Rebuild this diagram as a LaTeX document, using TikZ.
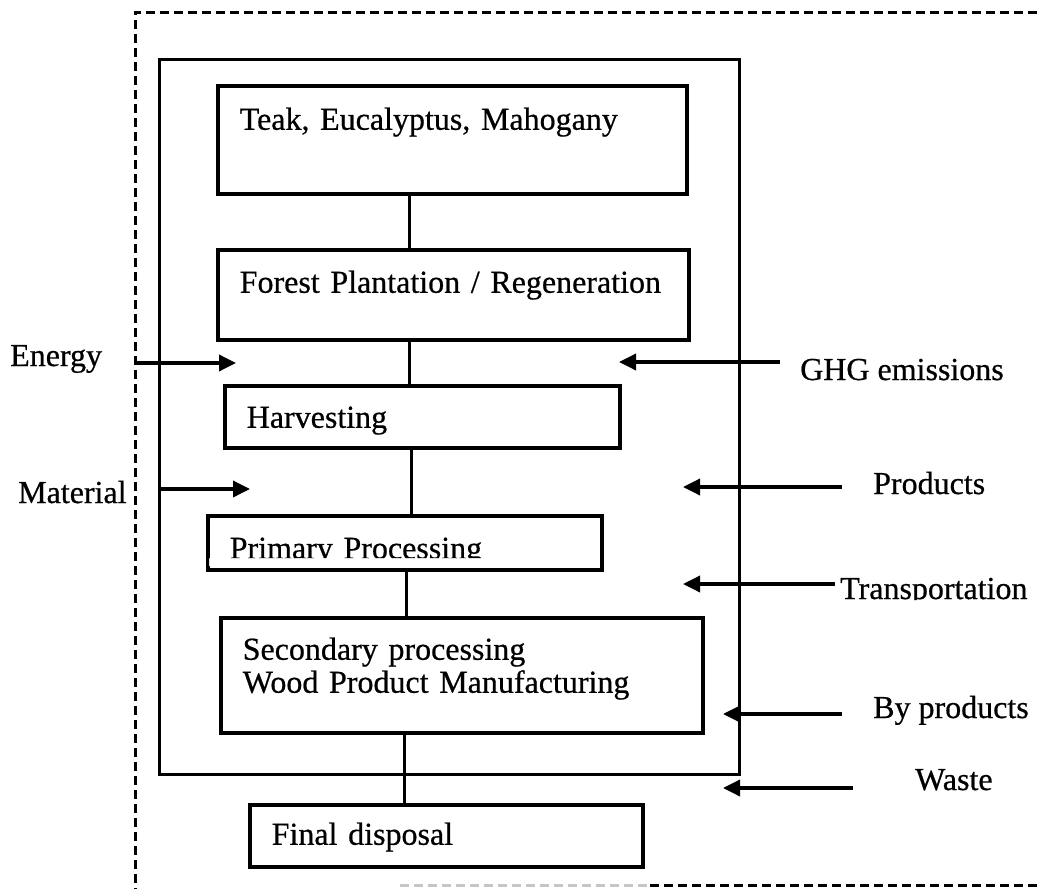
\documentclass[tikz,border=0pt]{standalone}
\usepackage{fontspec}
\setmainfont{Liberation Serif}[FakeBold=0.6]
\usetikzlibrary{arrows.meta}

\tikzset{
    every node/.style={font=\fontsize{32}{33}\selectfont},
    stage/.style={draw, line width=3.5pt, anchor=north west, inner xsep=22pt, inner ysep=0pt, align=left},
    tag/.style={anchor=base west, inner sep=0pt},
    link/.style={line width=3pt},
    flow/.style={-{Triangle[length=17pt,width=16pt]}, line width=3.5pt},
    border/.style={dashed, dash pattern=on 9pt off 5pt, line width=3pt},
}

\begin{document}
\begin{tikzpicture}[x=1pt, y=-1pt]

    \useasboundingbox (0,0) rectangle (1037,889);

    \begin{scope}[even odd rule]
    % cut the descenders off as in the scan
    \clip (0,0) rectangle (1037,889)
        (209,558) rectangle (597,566) (835,600) rectangle (1037,612);

    %% Outer (dashed) boundary
    \draw[border] (1037,12) -- (135,12) -- (135,889);
    \draw[border, gray!45] (400,885) -- (650,885);
    \draw[border] (650,885) -- (1037,885);

    %% System boundary
    \draw[line width=3pt] (159,59) rectangle (739,774);

    %% Life cycle stages
    \node[stage, text width=425pt, text height=44pt, text depth=64pt] (species) at (216,84) {Teak, Eucalyptus, Mahogany};
    \node[stage, text width=427pt, text height=43pt, text depth=47pt] (forest) at (216,248) {Forest Plantation / Regeneration};
    \node[stage, text width=351pt, text height=42pt, text depth=20pt] (harvest) at (223,384) {Harvesting};
    \node[stage, text width=350pt, text height=43pt, text depth=11pt] (primary) at (206,514) {Primary Processing};
    \node[stage, text width=438pt, text height=42pt, text depth=73pt] (secondary) at (219,616) {Secondary processing\\Wood Product Manufacturing};
    \node[stage, text width=349pt, text height=40pt, text depth=22pt] (disposal) at (248,803) {Final disposal};

    % Links between stages
    \draw[link] (species.south -| 409,0) -- (forest.north -| 409,0);
    \draw[link] (forest.south -| 409,0) -- (harvest.north -| 409,0);
    \draw[link] (harvest.south -| 411,0) -- (primary.north -| 411,0);
    \draw[link] (primary.south -| 406,0) -- (secondary.north -| 406,0);
    \draw[link] (secondary.south -| 404,0) -- (disposal.north -| 404,0);

    %% Inputs
    \node[tag] (energy) at (10,366) {Energy};
    \coordinate (energy-from) at (135,363);
    \coordinate (energy-to) at (236,363);
    \draw[flow] (energy-from) -- (energy-to);

    \node[tag] (material) at (18,503) {Material};
    \coordinate (material-from) at (159,489);
    \coordinate (material-to) at (250,489);
    \draw[flow] (material-from) -- (material-to);

    %% Outputs
    \foreach \name/\txt/\tx/\bl/\ay/\tail/\tip in {
        ghg/GHG emissions/800/380/362/780/619,
        products/Products/873/494/487/842/683,
        transport/Transportation/840/599/584/835/683,
        byproducts/By products/873/718/714/842/723,
        waste/Waste/915/790/788/853/723}
    {
        \node[tag] (\name) at (\tx,\bl) {\txt};
        \coordinate (\name-from) at (\tail,\ay);
        \coordinate (\name-to) at (\tip,\ay);
        \draw[flow] (\name-from) -- (\name-to);
    }
    \end{scope}

\end{tikzpicture}
\end{document}
